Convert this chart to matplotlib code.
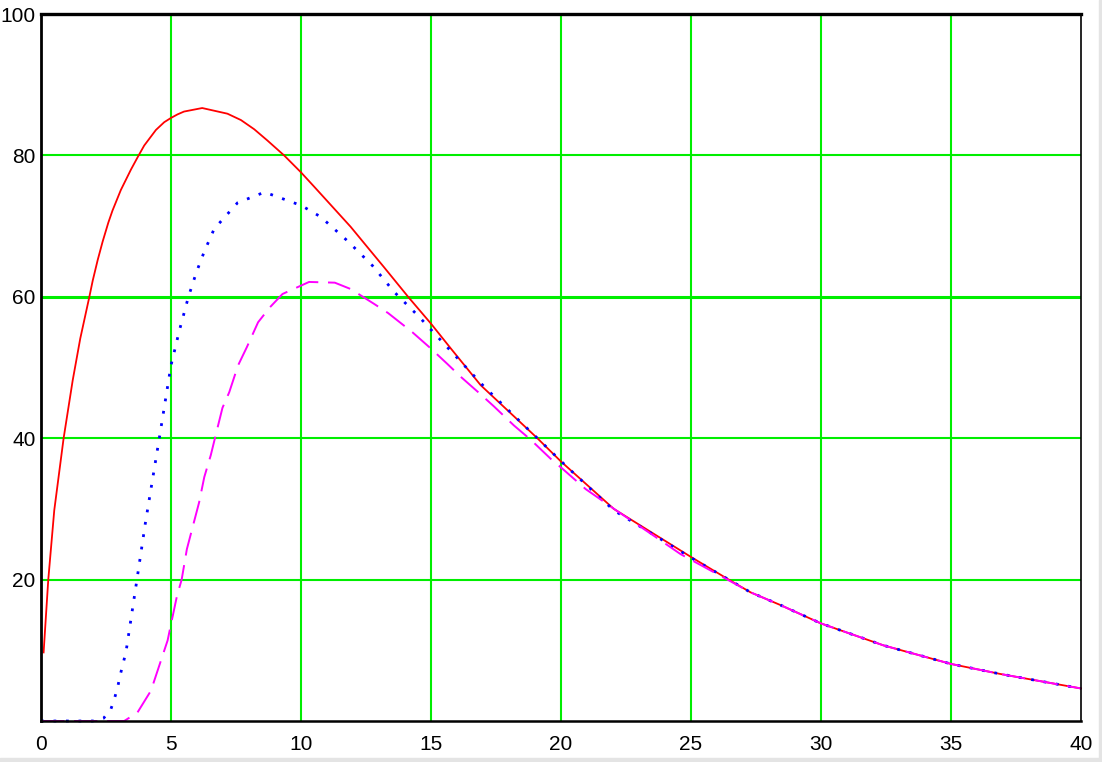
import matplotlib
matplotlib.use("Agg")
import matplotlib.pyplot as plt
from matplotlib.patches import Rectangle
from matplotlib import font_manager

# ---- data ----
red_x = [0.1, 0.28, 0.51, 0.87, 1.22, 1.51, 1.86, 1.99, 2.18, 2.37, 2.59, 2.75, 3.07,
         3.46, 3.74, 3.97, 4.42, 4.74, 5.0, 5.25, 5.5, 6.2, 7.17, 7.69, 8.2, 8.71,
         9.35, 10.0, 10.5, 11.02, 11.91, 12.56, 13.19, 14.12, 15.0, 15.76,
         16.91, 19.09, 20.0, 22.03, 25.0, 26.45, 27.29, 28.44, 30.0, 32.4, 35.0, 36.9, 40.0]
red_y = [9.7, 20.0, 29.8, 40.0, 48.2, 54.1, 60.0, 62.3, 65.2, 67.8, 70.5, 72.2, 75.1,
         78.0, 79.9, 81.4, 83.6, 84.7, 85.3, 85.8, 86.2, 86.7, 85.9, 85.0, 83.7, 82.1,
         80.0, 77.6, 75.6, 73.5, 69.9, 67.0, 64.2, 60.0, 56.2, 52.7,
         47.5, 40.0, 36.7, 30.0, 23.2, 20.0, 18.2, 16.4, 13.8, 10.7, 8.07, 6.65, 4.6]

blue_x = [0.0, 1.99, 2.41, 2.69, 2.82, 2.95, 3.04, 3.27, 3.69, 4.01, 4.55, 5.0, 5.32,
          5.67, 5.98, 6.28, 6.66, 7.56, 8.6, 10.02, 10.76, 11.79, 12.75, 13.58, 14.51,
          15.44, 17.04, 18.64, 20.27, 22.03, 25.0, 26.45, 27.29, 28.44, 30.0, 32.4,
          35.0, 36.9, 40.0]
blue_y = [0.0, 0.0, 0.4, 1.7, 3.1, 4.8, 6.4, 9.8, 20.0, 27.9, 40.0, 50.3, 55.2,
          60.0, 63.5, 66.4, 69.6, 73.3, 74.8, 72.9, 71.3, 67.9, 64.4, 60.7, 57.3,
          53.6, 47.3, 41.6, 35.8, 29.8, 23.1, 20.0, 18.2, 16.4, 13.8, 10.7,
          8.07, 6.65, 4.6]

mag_x = [0.0, 3.2, 3.71, 4.23, 4.87, 5.0, 5.23, 5.41, 5.61, 5.83, 6.08, 6.28, 6.53,
         6.69, 6.98, 7.24, 7.58, 7.92, 8.35, 8.8, 9.29, 9.65, 10.31, 11.3, 11.91,
         12.81, 13.35, 14.28, 14.99, 15.63, 16.14, 16.91, 17.42, 18.19, 18.83, 19.6,
         20.05, 20.95, 22.16, 23.57, 24.6, 26.45, 27.29, 28.44, 30.0, 32.4, 35.0,
         36.9, 40.0]
mag_y = [0.0, 0.0, 1.2, 4.3, 11.4, 13.7, 17.7, 20.0, 24.3, 27.4, 30.9, 34.5, 37.6,
         40.0, 44.3, 46.5, 50.3, 52.9, 56.4, 58.5, 60.4, 61.0, 62.1, 62.0, 61.1,
         59.0, 57.7, 55.0, 52.7, 50.5, 48.7, 46.2, 44.5, 41.8, 39.8, 37.1,
         35.7, 32.8, 29.7, 26.2, 23.6, 19.9, 18.2, 16.4, 13.8, 10.7, 8.07,
         6.65, 4.6]

x_ticks = [0, 5, 10, 15, 20, 25, 30, 35, 40]
y_ticks = [20, 40, 60, 80, 100]
y_grid = [20, 40, 60, 80]
x_grid = [5, 10, 15, 20, 25, 30, 35]

available = {f.name for f in font_manager.fontManager.ttflist}
if 'Liberation Sans Narrow' in available:
    plt.rcParams['font.family'] = ['Liberation Sans Narrow', 'DejaVu Sans']
    label_size = 18
else:
    plt.rcParams['font.family'] = ['Liberation Sans', 'DejaVu Sans']
    label_size = 15

W, H = 1102, 762
fig = plt.figure(figsize=(W / 100, H / 100), dpi=100)
fig.patch.set_facecolor('white')
fig.add_artist(Rectangle((1099 / W, 0), 3 / W, 1, transform=fig.transFigure,
                         color='#e4e4e4', zorder=0))
fig.add_artist(Rectangle((0, 0), 1, 4 / H, transform=fig.transFigure,
                         color='#e4e4e4', zorder=0))

left, right, top, bottom = 41, 1081, 14, 721
ax = fig.add_axes([left / W, 1 - bottom / H, (right - left) / W, (bottom - top) / H])
ax.set_xlim(0, 40)
ax.set_ylim(0, 100)

for gx in x_grid:
    ax.axvline(gx, color='#00ee00', lw=1.5, zorder=1)
for gy in y_grid:
    ax.axhline(gy, color='#00ee00', lw=2.2 if gy == 60 else 1.5, zorder=1)

ax.plot(red_x, red_y, color='red', lw=1.3, zorder=3, clip_on=False)
ax.plot(blue_x, blue_y, color='blue', lw=2.0, linestyle=(0, (1, 3.5)), zorder=4,
        clip_on=False)
ax.plot(mag_x, mag_y, color='magenta', lw=1.4, linestyle=(0, (12, 5)), zorder=5,
        clip_on=False)

ax.set_xticks(x_ticks)
ax.set_xticklabels([str(v) for v in x_ticks])
ax.set_yticks(y_ticks)
ax.set_yticklabels([str(v) for v in y_ticks])
ax.tick_params(axis='both', length=0, labelsize=label_size, colors='black')
ax.tick_params(axis='x', pad=10)
ax.tick_params(axis='y', pad=4)

ax.spines['top'].set_linewidth(2.4)
ax.spines['left'].set_linewidth(2.0)
ax.spines['bottom'].set_linewidth(1.8)
ax.spines['right'].set_linewidth(1.2)
for s in ax.spines.values():
    s.set_color('black')
    s.set_zorder(6)

fig.savefig('out.png', dpi=100)
